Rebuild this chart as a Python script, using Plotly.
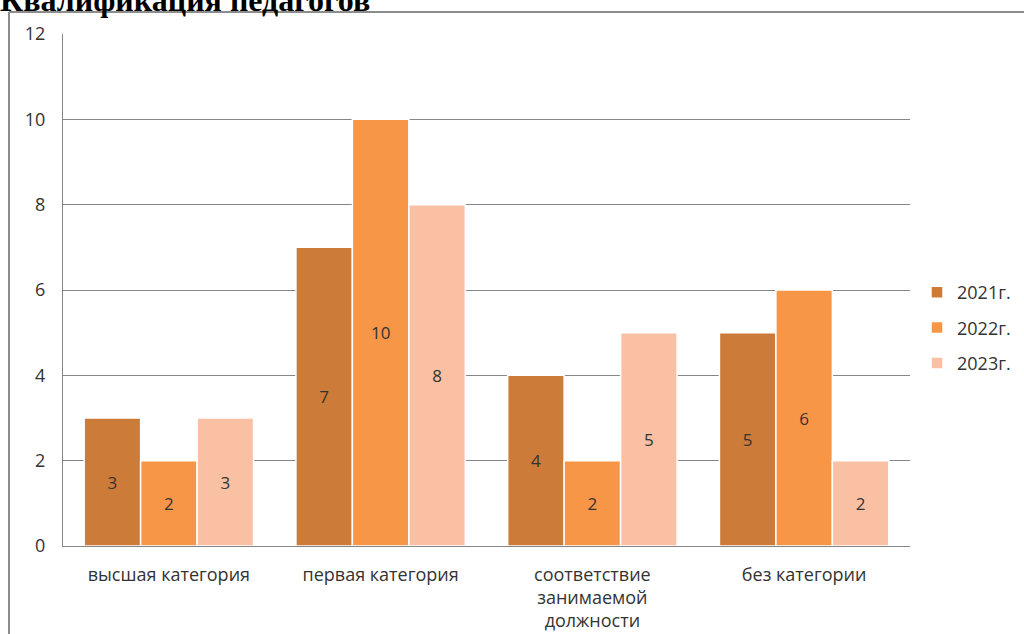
import plotly.graph_objects as go

categories = ["высшая категория", "первая категория",
              "соответствие<br>занимаемой<br>должности", "без категории"]
series_names = ["2021г.", "2022г.", "2023г."]
values_2021 = [3, 7, 4, 5]
values_2022 = [2, 10, 2, 6]
values_2023 = [3, 8, 5, 2]
colors = ["#CC7B38", "#F79646", "#FAC0A4"]
tick_vals = [0, 2, 4, 6, 8, 10, 12]

W, H = 1024, 634
ml, mr, mt, mb = 63, 114, 34, 88
pw, ph = W - ml - mr, H - mt - mb
FONT = "Open Sans"

def px_x(x):
    return (x - ml) / pw

def px_y(y):
    return (H - mb - y) / ph

fig = go.Figure()
for name, vals, col in zip(series_names, [values_2021, values_2022, values_2023], colors):
    fig.add_trace(go.Bar(
        x=categories, y=vals, name=name, legendgroup=name,
        marker=dict(color=col, line=dict(color="white", width=1.5)),
        text=[str(v) for v in vals], textposition="inside",
        insidetextanchor="middle", textangle=0,
        textfont=dict(family=FONT, size=17, color="#333333"),
    ))

fig.update_layout(
    width=W, height=H,
    margin=dict(l=ml, r=mr, t=mt, b=mb, autoexpand=False),
    paper_bgcolor="white", plot_bgcolor="white",
    barmode="group", bargap=0.2, bargroupgap=0.0,
    font=dict(family=FONT, size=18, color="#333333"),
    showlegend=True,
    legend=dict(x=px_x(917), y=px_y(328), xanchor="left", yanchor="middle",
                font=dict(family=FONT, size=18, color="#333333"),
                tracegroupgap=9, itemwidth=30, bgcolor="rgba(0,0,0,0)"),
    xaxis=dict(showgrid=False, showline=True, linecolor="#868686", linewidth=1,
               ticks="", ticklabelstandoff=12,
               tickfont=dict(size=18, color="#333333"), automargin=False),
    yaxis=dict(range=[0, 12], tickvals=tick_vals, showgrid=True, gridcolor="#868686",
               gridwidth=1, showline=True, linecolor="#868686", linewidth=1,
               zeroline=False, ticks="", ticklabelstandoff=13,
               tickfont=dict(size=18, color="#333333"), automargin=False),
    uniformtext=dict(mode=False),
    shapes=[
        dict(type="line", xref="paper", yref="paper", x0=px_x(9), x1=px_x(1030),
             y0=px_y(12), y1=px_y(12), line=dict(color="#8C8C8C", width=2), layer="above"),
        dict(type="line", xref="paper", yref="paper", x0=px_x(9), x1=px_x(9),
             y0=px_y(12), y1=px_y(640), line=dict(color="#8C8C8C", width=2), layer="above"),
    ],
    annotations=[
        dict(text="<b>Квалификация педагогов</b>", xref="paper", yref="paper",
             x=px_x(-2), y=px_y(20), xanchor="left", yanchor="bottom", showarrow=False,
             font=dict(family="Liberation Serif", size=32, color="black")),
    ],
)

fig.write_html("out.html", config={"displayModeBar": False},
               post_script="document.body.style.margin='0';document.body.style.padding='0';")
